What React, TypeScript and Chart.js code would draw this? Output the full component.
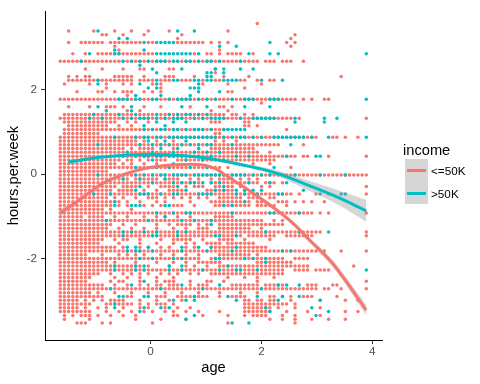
import React, { useEffect, useRef } from "react";
import { Chart, registerables } from "chart.js";

Chart.register(...registerables);

// standardisation used by the original plot (age and hours.per.week are scaled)
const AGE_MEAN = 38.55;
const AGE_SD = 13.22;
const HOURS_MEAN = 40.25;
const HOURS_SD = 11.1;

// [hours per week, ages observed at that value ("a-b" = every age from a to b)]
const LOW_ROWS: [number, string][] = [
  [80, "64"],
  [78, "19,25,30,34,38,43,57"],
  [77, "27,28,32,37,46,73"],
  [76, "45,72"],
  [75, "19,22-27,29-36,38,39,45-51,53,55,57,71,73"],
  [74, "30,72"],
  [73, "31,55"],
  [72, "20,23,26-39,49,52,53,55,57-60,63"],
  [70, "17-64,66-68,70-72,75"],
  [68, "23,27,32,36,37,43,44,54"],
  [67, "54"],
  [66, "19,21,23,24,30-34,37,42-44,49,56,62,84"],
  [65, "19-34,36-39,41-43,46-48,51,54,55,60,61,64,67,68"],
  [64, "18,24,28,32,34,39,41,51,57,65"],
  [63, "28,41,61"],
  [62, "21,26,27,30,32-34,37,39,41,57,58"],
  [61, "33"],
  [60, "17-73,75,77,80,81"],
  [59, "65"],
  [58, "19,24,28-30,32,37,41,48,55,56,58"],
  [57, "33,36,53,57"],
  [56, "18-34,36-39,41-56,58,59,61,63"],
  [55, "17-72,74,90"],
  [54, "18-30,33,35,38,53-55,61,62"],
  [53, "19-28,31,34,61,62,64"],
  [52, "18-57,71"],
  [51, "18-26,54,55"],
  [50, "17-78,82,83,85,88"],
  [49, "17-35,37,40,44,54,56,59"],
  [48, "17-69,75"],
  [47, "17-32,34,36-39,44,53-63"],
  [46, "17-64,67"],
  [45, "17-73,75,76,81,90"],
  [44, "17-31,33,34,36,38,40-42,45-68"],
  [43, "17-30,32,34,37,40,63,67"],
  [42, "17-55,57,72"],
  [41, "17-28"],
  [40, "17-90"],
  [39, "17-33,35-40,42-45,48,50,53,55-58,60,62,64"],
  [38, "17-50,53-64,66-68,70"],
  [37, "17-30,32-35,38,41-44,47,49-51,54,55,57,58,60,65,67,90"],
  [36, "17-29,31-34,37,40,43-46,52-58,61"],
  [35, "17-72,74,78,81,90"],
  [34, "17-28,30,32,35,38-40,42,44,46,48,50,52,55-60,62-64,67,68"],
  [33, "17-31,33,36,40,42,48,53-62,64,65,69-71,73,75,77,80"],
  [32, "17-29,31,33,37,39,41,44-46,49,54-62,64-68,71"],
  [31, "17-27,29,34"],
  [30, "17-77,79,81,90"],
  [29, "17-22,24-27,30,33,37,40,42,45,48,54-58"],
  [28, "17-65,68,70"],
  [27, "17-29,32,35,40,43,45-48,50,52,55-70"],
  [26, "17-28,31,34,37,40,44,47,50-52,55-62,65"],
  [25, "17-79,90"],
  [24, "17-60,62-68,71-77,90"],
  [23, "17-27,30,32,33,36,41,44-48,51,55-58,61,67"],
  [22, "17-26,31,36,40,44,47,49,52-55,57-63"],
  [21, "17-30,32,36,38,41,43,47,49,53-66"],
  [20, "17-78,80,84,90"],
  [19, "17-23,27,31,33,35,37,41,44,47,50,55-62,64"],
  [18, "17-50,53-70,73-76"],
  [17, "17-28,30,35,40,44,47,50-55,64-72"],
  [16, "17-36,38,43,47,49,52,55-76,87"],
  [15, "17-70,73-76,78-81"],
  [14, "17-26,29,32,34,36,38,41,43,45,48,50,53-70"],
  [13, "17-24,30,33,36,40,44,57,61,64,68"],
  [12, "17-23,29,31,32,36,40,42-44,48,52,53,56,64,90"],
  [11, "17-27,30,33,36,38,40,41,43-45,48,50-52,58-64,66-70,76-78,82,83"],
  [10, "17-78,80,81,84,90"],
  [9, "17-24,26,30,34,38,42,46,50,55,60,64"],
  [8, "17-27,33,34,40-42,45-52,55,58-61,67,68,70,72,75-77,83"],
  [7, "17-21,23,25,27,29-32,36,40,43,46,61,62,64,65,67,68,72,79,85,88"],
  [6, "17-24,28-34,36,38,40-42,44,61-71,73"],
  [5, "17-21,23,26,28,32,36,38,42,45,48,61-67,69,73,79"],
  [4, "17-24,28,31,34,37,39,42,44,47,50,55,61-67,71,76,85,88"],
  [3, "18,20,22-24,26,29,32,35,44,45,51,57,61,63-66,70,73,79"],
  [2, "18,24,35,41,47,67,70,73,77,81,85"],
  [1, "21-23,27,29,39,57,73"],
];

const HIGH_ROWS: [number, string][] = [
  [78, "26,45,49"],
  [76, "31,33"],
  [75, "37,40-44,67"],
  [74, "55,59"],
  [73, "30,37"],
  [72, "24,30,31,40-48,50,62,67,69,90"],
  [70, "22,32,34,36,38,40-42,44,45,47,48,50,52,53,55,60"],
  [69, "36"],
  [68, "39,46,54,56,60,63"],
  [67, "40,52,53,56"],
  [66, "52,53"],
  [65, "26,40,44,45,49,50,52,53,56-59,65,70"],
  [64, "26,36,40,50"],
  [63, "38,40,48-50"],
  [62, "50,55"],
  [61, "35,41,48"],
  [60, "31-33,35,36,39,40,43,45-48,50,52,54,58,61-63,67-69,90"],
  [58, "26,34,46,52,61,67"],
  [57, "28,34"],
  [56, "25,31,35,40,43,45,47,48,50,52"],
  [55, "24,27,32,34,36-38,40,42,44-46,49,51,53-56,60,63-68,73,80,83"],
  [54, "40,44,47,73,80"],
  [53, "37,42"],
  [52, "37,39,41,42,44,45,47,49-51,53,56-61"],
  [50, "30,35,37,38,40,41,43-54,56,58,60,61,63,65,68-75,77,81,90"],
  [49, "38,42,47"],
  [48, "26,36,39,41,43,46,48,50,52,53,58,72"],
  [47, "41,45,50"],
  [46, "33,39,44,49,52,55"],
  [45, "29,32,35,37,38,40,41,43,44,46,48,50,53,59,62,71,78,79"],
  [44, "39,47,51,56"],
  [43, "44"],
  [42, "35,40,43,48,52,68"],
  [40, "26,32,35,37,39,41,42,44-47,49-56,58-61,63,65,67,70,73,79,85"],
  [39, "32,36,42"],
  [38, "39,44,46,48,49,51,53,55,62,67,71"],
  [37, "36,45,56"],
  [36, "35,47,54,56,59,61,63,65,75"],
  [35, "25,29,36-38,41,44,45,50-53,59,61,64,69,70,79,84,85"],
  [33, "30,61"],
  [32, "30,34-36,42,43,56,58"],
  [30, "40,44,47,48,58,67,68,74"],
  [29, "42"],
  [28, "28,38,46,49,53"],
  [27, "53"],
  [25, "32,34,37,40,45,47,66,74,81"],
  [24, "32,39,40,45,54,55,59"],
  [21, "33,35,38,46,50,53,59"],
  [20, "33,35,36,39,46,52,58,70,72"],
  [18, "36,39,44,46,54,55,61,63,66"],
  [17, "66"],
  [16, "30,35,37,43,46,57"],
  [15, "30,35,37,43,46,51,55,59,60,64,90"],
  [12, "37"],
  [11, "34,46,55,69,71,74"],
  [10, "29,41,51,65"],
  [8, "31,32,37,38,49,57,64,70,74"],
  [7, "44,47,49,59,69,79"],
  [6, "30"],
  [5, "30,37,41,43,66,77"],
  [4, "36,67,81"],
  [3, "49,78"],
  [2, "47"],
  [1, "58,62"],
];

// smoothed fits (scaled units), with standard-error half widths
const LOW_FIT_X = [-1.63, -1.27, -0.86, -0.43, -0.01, 0.58, 1.07, 1.43, 1.97, 2.51, 2.87, 3.23, 3.47, 3.89];
const LOW_FIT_Y = [-0.93, -0.6, -0.22, 0.02, 0.16, 0.23, 0.18, -0.09, -0.56, -1.1, -1.57, -2.04, -2.44, -3.23];
const LOW_FIT_SE = [0.07, 0.05, 0.04, 0.03, 0.03, 0.03, 0.03, 0.03, 0.04, 0.05, 0.06, 0.08, 0.09, 0.12];

const HIGH_FIT_X = [-1.48, -0.91, -0.32, 0.29, 0.89, 1.66, 2.28, 2.87, 3.36, 3.89];
const HIGH_FIT_Y = [0.29, 0.4, 0.46, 0.46, 0.4, 0.22, 0.02, -0.28, -0.54, -0.87];
const HIGH_FIT_SE = [0.05, 0.03, 0.025, 0.025, 0.03, 0.04, 0.07, 0.12, 0.17, 0.26];

const X_TICKS = [0, 2, 4];
const Y_TICKS = [-2, 0, 2];
const X_LIMITS = [-1.905, 4.175];
const Y_LIMITS = [-3.94, 3.876];

const SERIES_NAMES = ["<=50K", ">50K"];
const SERIES_COLORS = ["#F8766D", "#00BFC4"];

const FONT = '"Liberation Sans", Arial, Helvetica, sans-serif';

function expandAges(spec: string): number[] {
  const out: number[] = [];
  for (const part of spec.split(",")) {
    const bits = part.split("-").map(Number);
    if (bits.length === 1) out.push(bits[0]);
    else for (let v = bits[0]; v <= bits[1]; v++) out.push(v);
  }
  return out;
}

function rowsToPoints(rows: [number, string][]) {
  const pts: { x: number; y: number }[] = [];
  for (const [h, spec] of rows) {
    for (const a of expandAges(spec)) {
      pts.push({ x: (a - AGE_MEAN) / AGE_SD, y: (h - HOURS_MEAN) / HOURS_SD });
    }
  }
  return pts;
}

function fitPoints(xs: number[], ys: number[], se: number[], sign: number) {
  return xs.map((x, i) => ({ x, y: ys[i] + sign * se[i] }));
}

export default function App() {
  const ref = useRef<HTMLCanvasElement | null>(null);

  useEffect(() => {
    if (!ref.current) return;
    const band = "rgba(153,153,153,0.4)";
    const lineBase = {
      type: "line" as const,
      pointRadius: 0,
      tension: 0.4,
      fill: false,
    };
    const chart = new Chart(ref.current, {
      type: "scatter",
      data: {
        datasets: [
          {
            label: SERIES_NAMES[0],
            data: rowsToPoints(LOW_ROWS),
            backgroundColor: SERIES_COLORS[0],
            pointRadius: 1.75,
            pointBorderWidth: 0,
            order: 10,
          },
          {
            label: SERIES_NAMES[1],
            data: rowsToPoints(HIGH_ROWS),
            backgroundColor: SERIES_COLORS[1],
            pointRadius: 1.75,
            pointBorderWidth: 0,
            order: 9,
          },
          {
            ...lineBase,
            data: fitPoints(LOW_FIT_X, LOW_FIT_Y, LOW_FIT_SE, -1),
            borderColor: "rgba(0,0,0,0)",
            borderWidth: 0,
            order: 8,
          },
          {
            ...lineBase,
            data: fitPoints(LOW_FIT_X, LOW_FIT_Y, LOW_FIT_SE, 1),
            borderColor: "rgba(0,0,0,0)",
            borderWidth: 0,
            backgroundColor: band,
            fill: "-1",
            order: 8,
          },
          {
            ...lineBase,
            data: LOW_FIT_X.map((x, i) => ({ x, y: LOW_FIT_Y[i] })),
            borderColor: SERIES_COLORS[0],
            borderWidth: 3,
            order: 7,
          },
          {
            ...lineBase,
            data: fitPoints(HIGH_FIT_X, HIGH_FIT_Y, HIGH_FIT_SE, -1),
            borderColor: "rgba(0,0,0,0)",
            borderWidth: 0,
            order: 6,
          },
          {
            ...lineBase,
            data: fitPoints(HIGH_FIT_X, HIGH_FIT_Y, HIGH_FIT_SE, 1),
            borderColor: "rgba(0,0,0,0)",
            borderWidth: 0,
            backgroundColor: band,
            fill: "-1",
            order: 6,
          },
          {
            ...lineBase,
            data: HIGH_FIT_X.map((x, i) => ({ x, y: HIGH_FIT_Y[i] })),
            borderColor: SERIES_COLORS[1],
            borderWidth: 3,
            order: 5,
          },
        ] as any,
      },
      options: {
        animation: false,
        responsive: false,
        events: [],
        layout: { padding: { top: 7, right: 98, left: 0, bottom: 0 } },
        plugins: { legend: { display: false }, tooltip: { enabled: false } },
        scales: {
          x: {
            type: "linear",
            min: X_LIMITS[0],
            max: X_LIMITS[1],
            afterBuildTicks: (s: any) => {
              s.ticks = X_TICKS.map((v) => ({ value: v }));
            },
            afterFit: (s: any) => {
              s.height = 44;
            },
            grid: { drawOnChartArea: false, drawTicks: true, tickLength: 4, tickColor: "#333333", tickWidth: 1 },
            border: { display: true, color: "#000000", width: 1 },
            ticks: {
              color: "#4D4D4D",
              font: { family: FONT, size: 11.73 },
              padding: 1,
              maxRotation: 0,
              autoSkip: false,
              callback: (v: any) => String(v),
            },
            title: {
              display: true,
              text: "age",
              color: "#000000",
              font: { family: FONT, size: 14.67 },
              padding: { top: 0, bottom: 7 },
            },
          },
          y: {
            type: "linear",
            min: Y_LIMITS[0],
            max: Y_LIMITS[1],
            afterBuildTicks: (s: any) => {
              s.ticks = Y_TICKS.map((v) => ({ value: v }));
            },
            afterFit: (s: any) => {
              s.width = 45;
            },
            grid: { drawOnChartArea: false, drawTicks: true, tickLength: 4, tickColor: "#333333", tickWidth: 1 },
            border: { display: true, color: "#000000", width: 1 },
            ticks: {
              color: "#4D4D4D",
              font: { family: FONT, size: 11.73 },
              padding: 4,
              autoSkip: false,
              callback: (v: any) => String(v),
            },
            title: {
              display: true,
              text: "hours.per.week",
              color: "#000000",
              font: { family: FONT, size: 14.67 },
              padding: { top: 5, bottom: 0 },
            },
          },
        },
      } as any,
    });
    return () => chart.destroy();
  }, []);

  const keyBox = (top: number) => ({
    position: "absolute" as const,
    left: 405,
    top,
    width: 23,
    height: 22.5,
    background: "#D6D6D6",
  });
  const keyLine = (top: number, color: string) => ({
    position: "absolute" as const,
    left: 407,
    top,
    width: 19,
    height: 3,
    background: color,
  });
  const label = (top: number) => ({
    position: "absolute" as const,
    left: 431,
    top,
    fontFamily: FONT,
    fontSize: 11.73,
    lineHeight: 1,
    color: "#000000",
    whiteSpace: "nowrap" as const,
  });

  return (
    <div style={{ position: "absolute", left: 0, top: 0, width: 480, height: 384, background: "#FFFFFF" }}>
      <canvas ref={ref} width={480} height={384} style={{ position: "absolute", left: 0, top: 0 }} />
      <div
        style={{
          position: "absolute",
          left: 403,
          top: 142.6,
          fontFamily: FONT,
          fontSize: 14.67,
          lineHeight: 1,
          color: "#000000",
        }}
      >
        income
      </div>
      <div style={keyBox(159)} />
      <div style={keyBox(181.5)} />
      <div style={keyLine(169, SERIES_COLORS[0])} />
      <div style={keyLine(191.5, SERIES_COLORS[1])} />
      <div style={label(164.8)}>{SERIES_NAMES[0]}</div>
      <div style={label(187.6)}>{SERIES_NAMES[1]}</div>
    </div>
  );
}
